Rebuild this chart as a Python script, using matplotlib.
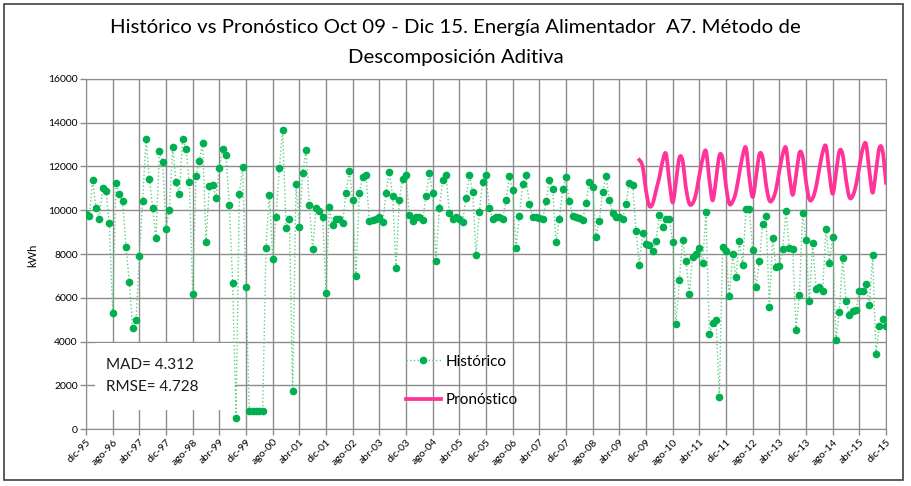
import numpy as np
import matplotlib
matplotlib.use('Agg')
import matplotlib.pyplot as plt
from matplotlib.patches import Rectangle

# monthly energy, dic-95 .. dic-15 (kWh)
historico = [
    9850, 9740, 11360, 10120, 9590, 11000, 10900, 9400, 5300, 11240,
    10730, 10420, 8330, 6700, 4620, 5000, 7900, 10420, 13260, 11450,
    10120, 8710, 12700, 12200, 9150, 10030, 12880, 11300, 10730, 13260,
    12800, 11300, 6170, 11550, 12270, 13080, 8550, 11090, 11170, 10550,
    11950, 12790, 12530, 10230, 6660, 520, 10740, 11990, 6480, 840,
    840, 840, 840, 840, 8290, 10690, 7770, 9700, 11930, 13660,
    9200, 9620, 1750, 11190, 9240, 11720, 12770, 10230, 8220, 10080,
    9970, 9700, 6200, 10150, 9320, 9620, 9620, 9420, 10810, 11780,
    10480, 7000, 10790, 11530, 11610, 9520, 9550, 9590, 9670, 9440,
    10770, 11760, 10640, 7380, 10480, 11450, 11590, 9770, 9520, 9710,
    9710, 9550, 10640, 11680, 10770, 7670, 10110, 11360, 11610, 9890,
    9590, 9670, 9610, 9480, 10550, 11610, 10850, 7970, 9910, 11300,
    11610, 10120, 9620, 9670, 9670, 9590, 10480, 11550, 10920, 8260,
    9730, 11180, 11610, 10270, 9670, 9670, 9640, 9590, 10420, 11360,
    10980, 8560, 9580, 10980, 11510, 10420, 9740, 9670, 9640, 9550,
    10330, 11300, 11060, 8760, 9520, 10850, 11550, 10480, 9880, 9670,
    9700, 9610, 10270, 11260, 11150, 9030, 7520, 8940, 8450, 8420,
    8150, 8610, 9770, 9240, 9610, 9610, 8560, 4790, 6790, 8650,
    7670, 6180, 7880, 8000, 8270, 7600, 9910, 4330, 4850, 5000,
    1450, 8330, 8120, 6060, 7980, 6940, 8580, 7520, 10050, 10050,
    8180, 6480, 7670, 9360, 9740, 5580, 8710, 7400, 7450, 8210,
    9970, 8270, 8210, 4540, 6120, 9890, 8630, 5860, 8480, 6420,
    6480, 6330, 9150, 7600, 8790, 4090, 5350, 7820, 5860, 5210,
    5410, 5440, 6330, 6330, 6630, 5650, 7950, 3440, 4690, 5050,
    4690,
]

# forecast, oct-09 .. dic-15
pron_inicio = 166
pronostico = [
    12300, 12000, 10900, 10200, 10300, 10900, 11500, 12250, 12580, 11300,
    10350, 11300, 12400, 12250, 11000, 10300, 10320, 10750, 11600, 12350,
    12700, 11400, 10450, 11400, 12500, 12350, 11100, 10300, 10400, 10850,
    11700, 12500, 12850, 11500, 10600, 11500, 12550, 12400, 11200, 10450,
    10500, 10950, 11800, 12550, 12850, 11600, 10700, 11600, 12620, 12450,
    11300, 10500, 10550, 11050, 11900, 12650, 12920, 11700, 10750, 11700,
    12700, 12550, 11400, 10600, 10650, 11150, 12000, 12800, 13030, 11800,
    10800, 11800, 12850, 12700, 11260,
]

etiquetas = ['dic-95', 'ago-96', 'abr-97', 'dic-97', 'ago-98', 'abr-99', 'dic-99',
             'ago-00', 'abr-01', 'dic-01', 'ago-02', 'abr-03', 'dic-03', 'ago-04',
             'abr-05', 'dic-05', 'ago-06', 'abr-07', 'dic-07', 'ago-08', 'abr-09',
             'dic-09', 'ago-10', 'abr-11', 'dic-11', 'ago-12', 'abr-13', 'dic-13',
             'ago-14', 'abr-15', 'dic-15']
paso = 8


def suavizar(x, y, n=12):
    # catmull-rom, similar to excel's smoothed line
    x = np.asarray(x, float)
    y = np.asarray(y, float)
    px = np.concatenate([[x[0]], x, [x[-1]]])
    py = np.concatenate([[y[0]], y, [y[-1]]])
    xs, ys = [], []
    t = np.linspace(0, 1, n, endpoint=False)
    for k in range(1, len(px) - 2):
        for p, out in ((px, xs), (py, ys)):
            p0, p1, p2, p3 = p[k - 1], p[k], p[k + 1], p[k + 2]
            out.extend(0.5 * (2 * p1 + (-p0 + p2) * t
                              + (2 * p0 - 5 * p1 + 4 * p2 - p3) * t ** 2
                              + (-p0 + 3 * p1 - 3 * p2 + p3) * t ** 3))
    xs.append(x[-1])
    ys.append(y[-1])
    return np.array(xs), np.array(ys)


plt.rcParams['font.family'] = ['Lato', 'DejaVu Sans']

W, H = 911, 486
fig = plt.figure(figsize=(W / 100, H / 100), dpi=100)
ax = fig.add_axes([86 / W, 1 - 429 / H, 800 / W, 350 / H])

gris = '#8c8c8c'
ax.set_xlim(0, 240)
ax.set_ylim(0, 16000)
ax.set_yticks(np.arange(0, 16001, 2000))
ax.set_xticks(np.arange(0, 241, paso))
ax.set_xticklabels(etiquetas, rotation=45, ha='right', va='top',
                   rotation_mode='anchor', fontsize=7.5)
ax.tick_params(axis='y', labelsize=7.5)
ax.tick_params(direction='out', length=4, width=1, color=gris, pad=2)
ax.grid(True, color=gris, lw=1)
ax.set_axisbelow(True)
for s in ax.spines.values():
    s.set_color(gris)

meses = np.arange(len(historico))
ax.plot(meses, historico, ls=':', lw=1, color='#5fcf86', marker='o',
        ms=4.5, mfc='#00b050', mec='#00b050', label='Histórico', zorder=3)

xs, ys = suavizar(np.arange(pron_inicio, pron_inicio + len(pronostico)), pronostico)
ax.plot(xs, ys, color='#ff3399', lw=2.7, label='Pronóstico', zorder=4)

leg = ax.legend(loc='upper left', bbox_to_anchor=((398 - 86) / 800, (429 - 347) / 350),
                frameon=False, fontsize=11, borderpad=0, labelspacing=1.6,
                handlelength=2.3, handletextpad=0.3)

# statistics box
ax.add_patch(Rectangle(((95 - 86) / 800, (429 - 410) / 350), 140 / 800, 67 / 350,
                       transform=ax.transAxes, fc='white', ec='none', zorder=2))
ax.text((106 - 86) / 800, (429 - 365) / 350, 'MAD= 4.312', transform=ax.transAxes,
        fontsize=11, va='center', ha='left', zorder=5, color='#1a1a1a')
ax.text((106 - 86) / 800, (429 - 387) / 350, 'RMSE= 4.728', transform=ax.transAxes,
        fontsize=11, va='center', ha='left', zorder=5, color='#1a1a1a')

fig.text(0.5, 1 - 27 / H,
         'Histórico vs Pronóstico Oct 09 - Dic 15. Energía Alimentador  A7. Método de',
         ha='center', va='center', fontsize=14.7)
fig.text(0.5, 1 - 57 / H, 'Descomposición Aditiva', ha='center', va='center', fontsize=14.7)
fig.text(33 / W, 1 - 255 / H, 'kWh', rotation=90, ha='center', va='center', fontsize=8)

fig.patches.append(Rectangle((4 / W, 6 / H), 899 / W, 476 / H, transform=fig.transFigure,
                             fill=False, ec='#404040', lw=1.2))

fig.savefig('out.png', dpi=100)
